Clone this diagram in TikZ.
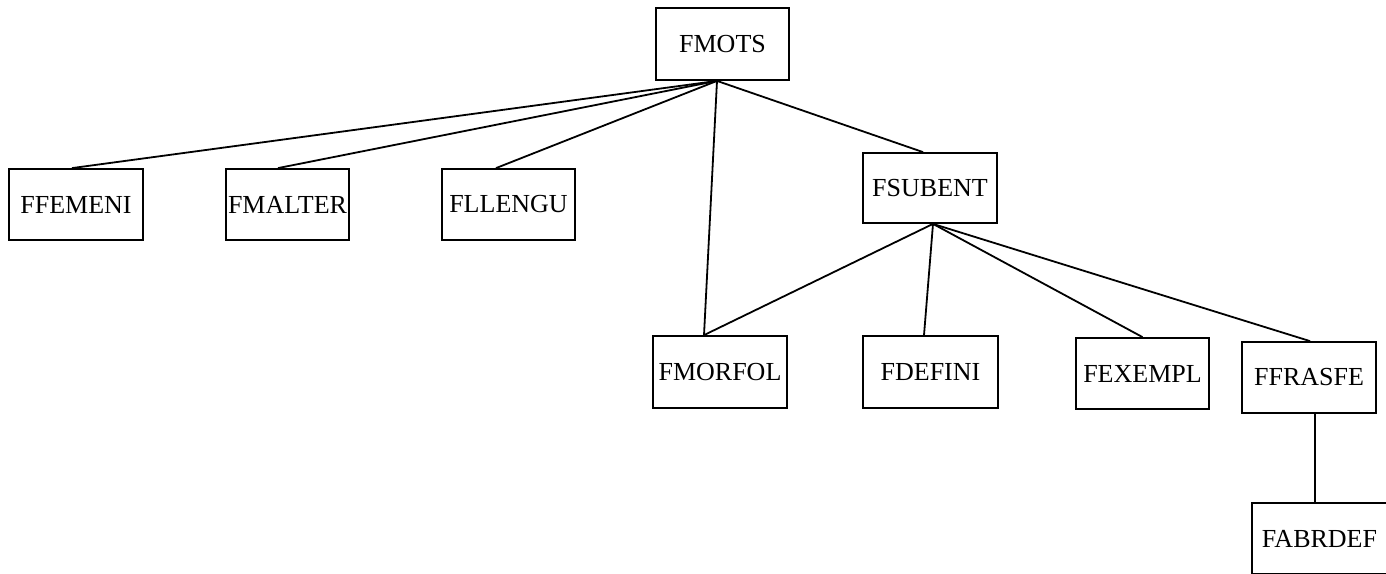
\documentclass[tikz,border=0pt]{standalone}
\usepackage{fontspec}
\setmainfont{Liberation Serif}
\begin{document}
\begin{tikzpicture}[x=1pt,y=-1pt,
  box/.style={draw=black,line width=1.8pt,fill=white,inner sep=0pt,font=\fontsize{26}{28}\selectfont},
  link/.style={draw=black,line width=1.8pt}]
\useasboundingbox (0,0) rectangle (1386,573);
\node[box,minimum width=133pt,minimum height=72pt] (fmots) at (722.5,44) {FMOTS};
\node[box,minimum width=134pt,minimum height=71pt] (ffemeni) at (76,204.5) {FFEMENI};
\node[box,minimum width=123pt,minimum height=71pt] (fmalter) at (287.5,204.5) {FMALTER};
\node[box,minimum width=133pt,minimum height=71pt] (fllengu) at (508.5,204.5) {FLLENGU};
\node[box,minimum width=134pt,minimum height=70pt] (fsubent) at (930,188) {FSUBENT};
\node[box,minimum width=134pt,minimum height=72pt] (fmorfol) at (720,372) {FMORFOL};
\node[box,minimum width=135pt,minimum height=72pt] (fdefini) at (930.5,372) {FDEFINI};
\node[box,minimum width=133pt,minimum height=71pt] (fexempl) at (1142.5,373.5) {FEXEMPL};
\node[box,minimum width=134pt,minimum height=71pt] (ffrasfe) at (1309,377.5) {FFRASFE};
\node[box,minimum width=135pt,minimum height=71pt] (fabrdef) at (1319.5,538.5) {FABRDEF};
\coordinate (mb) at ([xshift=-5.5pt]fmots.south);
\coordinate (sb) at ([xshift=3pt]fsubent.south);
\draw[link] (mb) -- ([xshift=-4pt]ffemeni.north);
\draw[link] (mb) -- ([xshift=-9.5pt]fmalter.north);
\draw[link] (mb) -- ([xshift=-12.5pt]fllengu.north);
\draw[link] (mb) -- ([xshift=-16pt]fmorfol.north);
\draw[link] (mb) -- ([xshift=-7pt]fsubent.north);
\draw[link] (sb) -- ([xshift=-16pt]fmorfol.north);
\draw[link] (sb) -- ([xshift=-6.5pt]fdefini.north);
\draw[link] (sb) -- ([xshift=0pt]fexempl.north);
\draw[link] (sb) -- ([xshift=1pt]ffrasfe.north);
\draw[link] ([xshift=6pt]ffrasfe.south) -- ([xshift=-4.5pt]fabrdef.north);
\end{tikzpicture}
\end{document}
